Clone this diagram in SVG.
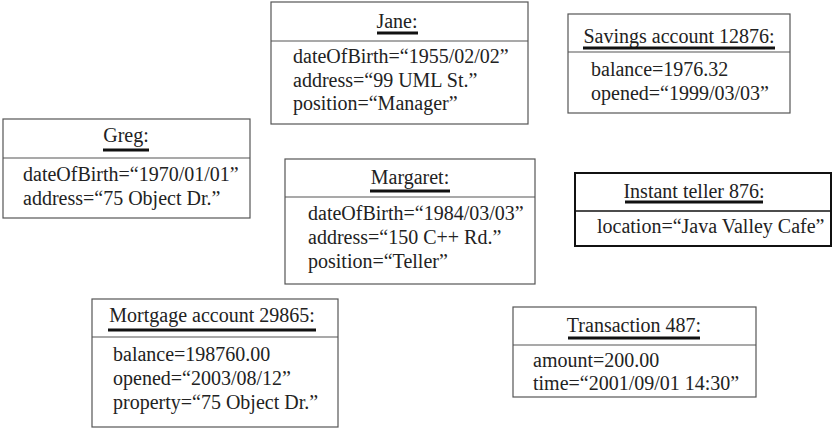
<svg xmlns="http://www.w3.org/2000/svg" width="832" height="428" viewBox="0 0 832 428">
<style>
.box{fill:#fff;stroke:#555;stroke-width:1.2}
.box2{fill:#fff;stroke:#111;stroke-width:2}
.div{stroke:#555;stroke-width:1.2}
.div2{stroke:#111;stroke-width:1.5}
.t{font-family:"Liberation Serif","Times New Roman",serif;font-size:20px;fill:#222}
.c{text-anchor:middle}
.ul{stroke:#111;stroke-width:3}
</style>
<rect width="832" height="428" fill="#fff"/>
<g id="jane">
<rect class="box" x="271" y="2" width="257" height="122"/>
<line class="div" x1="271" y1="41" x2="528" y2="41"/>
<text class="t c" x="397" y="28">Jane:</text>
<line class="ul" x1="377" y1="33" x2="418" y2="33"/>
<text class="t" x="293" y="63">dateOfBirth=“1955/02/02”</text>
<text class="t" x="293" y="87">address=“99 UML St.”</text>
<text class="t" x="293" y="110">position=“Manager”</text>
</g>
<g id="greg">
<rect class="box" x="3" y="119" width="247" height="99"/>
<line class="div" x1="3" y1="158" x2="250" y2="158"/>
<text class="t c" x="126" y="142">Greg:</text>
<line class="ul" x1="103" y1="150" x2="149" y2="150"/>
<text class="t" x="23" y="181">dateOfBirth=“1970/01/01”</text>
<text class="t" x="23" y="205">address=“75 Object Dr.”</text>
</g>
<g id="savings">
<rect class="box" x="568" y="14" width="222" height="99"/>
<line class="div" x1="568" y1="52" x2="790" y2="52"/>
<text class="t c" x="679" y="43">Savings account 12876:</text>
<line class="ul" x1="583" y1="48" x2="775" y2="48"/>
<text class="t" x="591" y="76">balance=1976.32</text>
<text class="t" x="591" y="100">opened=“1999/03/03”</text>
</g>
<g id="margaret">
<rect class="box" x="285" y="159" width="250" height="125"/>
<line class="div" x1="285" y1="197" x2="535" y2="197"/>
<text class="t c" x="410" y="184">Margaret:</text>
<line class="ul" x1="370" y1="191" x2="450" y2="191"/>
<text class="t" x="308" y="220">dateOfBirth=“1984/03/03”</text>
<text class="t" x="308" y="244">address=“150 C++ Rd.”</text>
<text class="t" x="308" y="268">position=“Teller”</text>
</g>
<g id="teller">
<rect class="box2" x="575" y="173" width="256" height="73"/>
<line class="div2" x1="575" y1="211" x2="831" y2="211"/>
<text class="t c" x="694" y="198">Instant teller 876:</text>
<line class="ul" x1="625" y1="202" x2="763" y2="202"/>
<text class="t" x="597" y="233">location=“Java Valley Cafe”</text>
</g>
<g id="mortgage">
<rect class="box" x="92" y="299" width="246" height="128"/>
<line class="div" x1="92" y1="337" x2="338" y2="337"/>
<text class="t c" x="212" y="322">Mortgage account 29865:</text>
<line class="ul" x1="108" y1="330" x2="316" y2="330"/>
<text class="t" x="113" y="361">balance=198760.00</text>
<text class="t" x="113" y="385">opened=“2003/08/12”</text>
<text class="t" x="113" y="409">property=“75 Object Dr.”</text>
</g>
<g id="transaction">
<rect class="box" x="513" y="307" width="243" height="90"/>
<line class="div" x1="513" y1="345" x2="756" y2="345"/>
<text class="t c" x="634" y="332">Transaction 487:</text>
<line class="ul" x1="568" y1="338" x2="700" y2="338"/>
<text class="t" x="533" y="367">amount=200.00</text>
<text class="t" x="533" y="390">time=“2001/09/01 14:30”</text>
</g>
<g id="connectors"></g>
</svg>
